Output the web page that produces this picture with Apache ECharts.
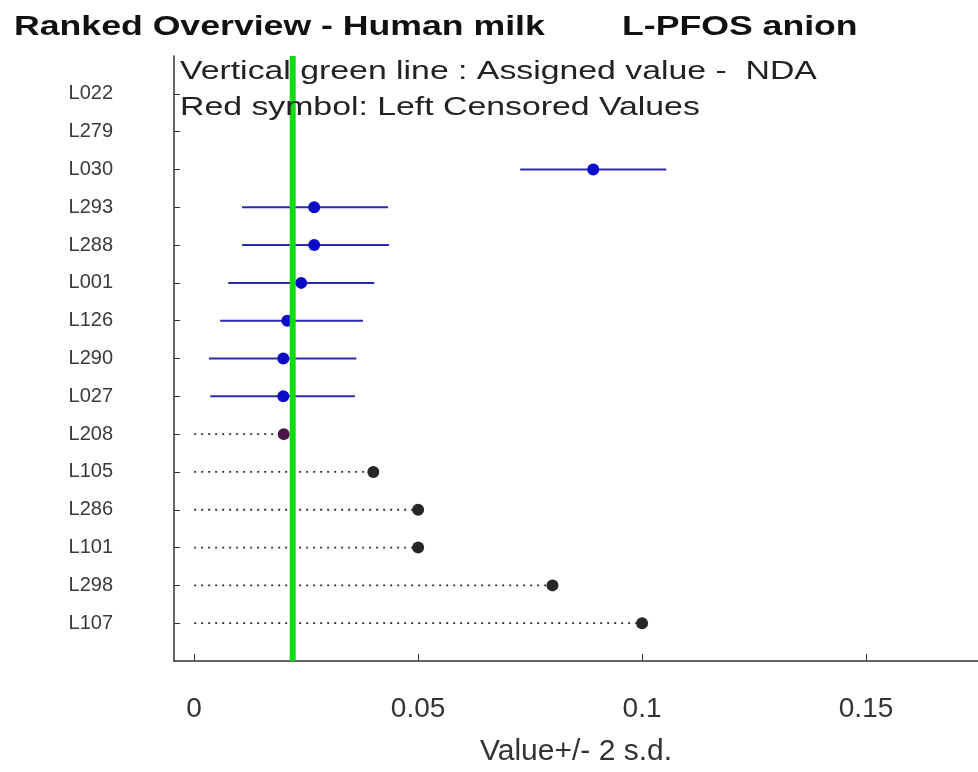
<!DOCTYPE html>
<html>
<head>
<meta charset="UTF-8">
<title>Ranked Overview - Human milk</title>
<script src="https://cdn.jsdelivr.net/npm/echarts@6/dist/echarts.min.js"></script>
<style>
	html, body { margin: 0; padding: 0; background: #fff; }
	#chart { width: 978px; height: 772px; }
</style>
</head>
<body>
<div id="chart"></div>
<script>
// labs, top to bottom
var labs = ['L022', 'L279', 'L030', 'L293', 'L288', 'L001', 'L126', 'L290', 'L027', 'L208', 'L105', 'L286', 'L101', 'L298', 'L107'];
// reported value (null = no result)
var values = [null, null, 0.0891, 0.0268, 0.0268, 0.0239, 0.0208, 0.0199, 0.0199, 0.0200, 0.040, 0.050, 0.050, 0.080, 0.100];
// value - 2 s.d. / value + 2 s.d. (null = left censored, no s.d.)
var lows  = [null, null, 0.0728, 0.0107, 0.0107, 0.0076, 0.0058, 0.0033, 0.0036, null, null, null, null, null, null];
var highs = [null, null, 0.1054, 0.0433, 0.0435, 0.0402, 0.0377, 0.0362, 0.0359, null, null, null, null, null, null];
// 'q' = quantified, 'lt' = "<" value, 'lcv' = left censored flagged
var kinds = ['', '', 'q', 'q', 'q', 'q', 'q', 'q', 'q', 'lcv', 'lt', 'lt', 'lt', 'lt', 'lt'];
var assignedValue = 0.022;
var xTicks = [0, 0.05, 0.1, 0.15];
var yTicks = [1, 2, 3, 4, 5, 6, 7, 8, 9, 10, 11, 12, 13, 14, 15];

var chart = echarts.init(document.getElementById('chart'));

var barData = [], dotData = [], pointData = [];
for (var i = 0; i < labs.length; i++) {
	if (values[i] == null) continue;
	if (kinds[i] == 'q') {
		barData.push([lows[i], highs[i], i + 1]);
	} else {
		dotData.push([0, values[i], i + 1]);
	}
	var col = '#0c0cc8';
	if (kinds[i] == 'lt') col = '#262626';
	if (kinds[i] == 'lcv') col = '#4a1848';
	pointData.push({ value: [values[i], i + 1], itemStyle: { color: col } });
}

// horizontal segment from value(0) to value(1) at row value(2)
function segment(stroke, width, dash) {
	return function (params, api) {
		var a = api.coord([api.value(0), api.value(2)]);
		var b = api.coord([api.value(1), api.value(2)]);
		return {
			type: 'line',
			shape: { x1: a[0], y1: a[1], x2: b[0], y2: b[1] },
			style: { stroke: stroke, lineWidth: width, lineDash: dash }
		};
	};
}

var font = "'Liberation Sans', Arial, sans-serif";

var option = {
	animation: false,
	backgroundColor: '#fff',
	grid: { left: 174, right: 0, top: 56, bottom: 106 },
	graphic: [
		{ type: 'text', x: 14, y: 28, scaleX: 1.32, style: { text: 'Ranked Overview - Human milk', font: 'bold 27px ' + font, fill: '#111', verticalAlign: 'middle' } },
		{ type: 'text', x: 622, y: 28, scaleX: 1.32, style: { text: 'L-PFOS anion', font: 'bold 27px ' + font, fill: '#111', verticalAlign: 'middle' } },
		{ type: 'text', x: 180, y: 72, scaleX: 1.3, z: 100, style: { text: 'Vertical green line : Assigned value -  NDA', font: '26px ' + font, fill: '#222', verticalAlign: 'middle' } },
		{ type: 'text', x: 180, y: 108, scaleX: 1.3, z: 100, style: { text: 'Red symbol: Left Censored Values', font: '26px ' + font, fill: '#222', verticalAlign: 'middle' } }
	],
	xAxis: {
		type: 'value',
		min: -0.0045,
		max: 0.175,
		name: 'Value+/- 2 s.d.',
		nameLocation: 'middle',
		nameGap: 76,
		nameTextStyle: { fontSize: 30, color: '#333', fontFamily: font },
		axisLine: { onZero: false, lineStyle: { color: '#333', width: 1.5 } },
		axisTick: { inside: true, length: 7, customValues: xTicks, lineStyle: { color: '#333' } },
		axisLabel: { customValues: xTicks, fontSize: 28, color: '#333', margin: 34, fontFamily: font },
		splitLine: { show: false }
	},
	yAxis: {
		type: 'value',
		min: 0,
		max: 16,
		inverse: true,
		axisLine: { show: true, onZero: false, lineStyle: { color: '#333', width: 1.5 } },
		axisTick: { show: true, inside: true, length: 6, customValues: yTicks, lineStyle: { color: '#333' } },
		axisLabel: {
			customValues: yTicks, fontSize: 20, color: '#3a3a3a', margin: 61, fontFamily: font,
			formatter: function (v) { return labs[v - 1]; }
		},
		splitLine: { show: false }
	},
	series: [
		{
			type: 'custom',
			renderItem: segment('#2a2ab0', 2, null),
			encode: { x: [0, 1], y: 2 },
			data: barData,
			z: 2
		},
		{
			type: 'custom',
			renderItem: segment('#333', 1.8, [2, 5]),
			encode: { x: [0, 1], y: 2 },
			data: dotData,
			z: 2
		},
		{
			type: 'scatter',
			symbol: 'circle',
			symbolSize: 12,
			itemStyle: { opacity: 1 },
			data: pointData,
			z: 3
		},
		{
			type: 'line',
			data: [[assignedValue, 0], [assignedValue, 16]],
			symbol: 'none',
			lineStyle: { color: '#10dd10', width: 6 },
			z: 4
		}
	]
};
chart.setOption(option);
</script>
</body>
</html>
